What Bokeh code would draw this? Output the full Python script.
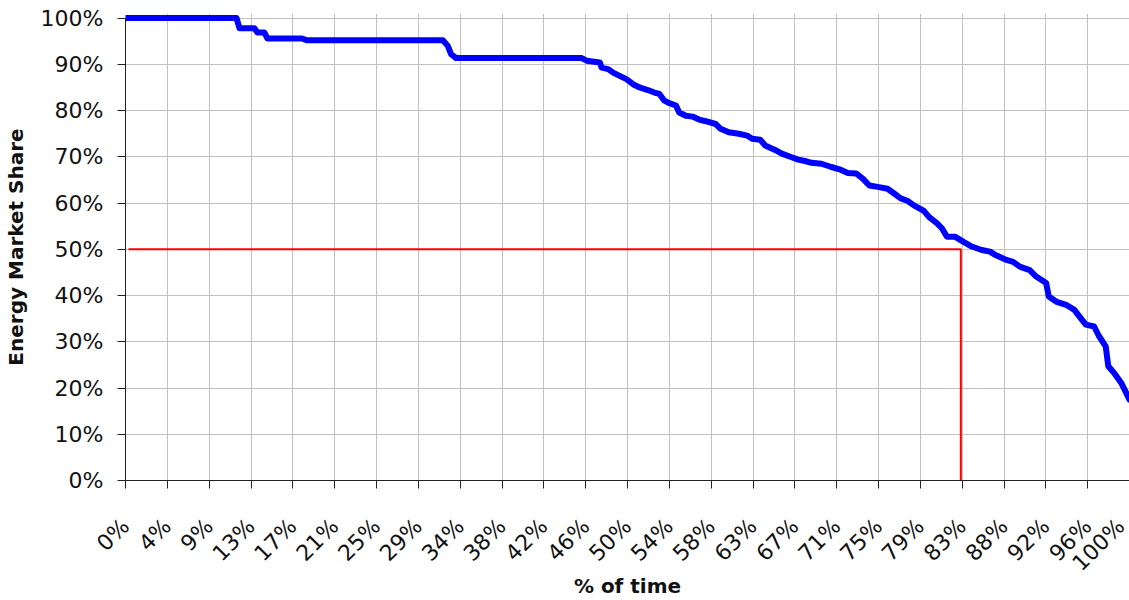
import math
from bokeh.plotting import figure
from bokeh.models import Range1d, FixedTicker, CustomJSTickFormatter, PrintfTickFormatter
from bokeh.embed import file_html
from bokeh.resources import INLINE

# % of time (x) and energy market share in % (y)
time_pct = [0.0, 11.06, 11.36, 12.84, 13.14, 13.83, 14.13, 17.58, 18.08, 31.61, 32.1, 32.43, 32.93,
            45.44, 45.93, 47.25, 47.42, 48.08, 48.57, 49.22, 49.89, 50.55, 51.2, 52.03, 52.68, 53.18,
            53.67, 54.16, 54.83, 55.15, 55.81, 56.47, 57.13, 57.79, 58.78, 59.27, 60.09, 61.08, 61.91,
            62.41, 63.22, 63.72, 64.7, 65.37, 66.35, 67.0, 67.67, 68.33, 69.32, 70.3, 71.12, 71.94,
            72.77, 73.43, 74.09, 74.91, 75.9, 76.56, 77.22, 77.87, 78.53, 79.52, 80.02, 80.84, 81.33,
            81.82, 82.65, 83.47, 84.29, 85.28, 86.11, 86.6, 87.75, 88.41, 89.07, 90.06, 90.71, 91.7,
            91.96, 92.69, 93.68, 94.51, 95.0, 95.65, 96.48, 96.97, 97.63, 97.89, 98.45, 99.18, 100.0]
share_pct = [100.0, 100.0, 97.8, 97.8, 96.9, 96.9, 95.6, 95.6, 95.2, 95.2, 94.0, 92.2, 91.35,
             91.35, 90.8, 90.4, 89.3, 88.97, 88.2, 87.5, 86.8, 85.7, 85.0, 84.45, 83.9, 83.6,
             82.15, 81.6, 81.1, 79.6, 78.9, 78.7, 78.06, 77.7, 77.1, 76.06, 75.3, 74.98, 74.6,
             73.9, 73.7, 72.46, 71.5, 70.7, 69.9, 69.4, 69.1, 68.7, 68.5, 67.8, 67.3, 66.5,
             66.4, 65.3, 63.8, 63.5, 63.1, 62.06, 61.0, 60.5, 59.5, 58.3, 57.0, 55.6, 54.5,
             52.7, 52.7, 51.6, 50.6, 49.85, 49.5, 48.8, 47.7, 47.3, 46.25, 45.5, 44.1, 42.7,
             39.8, 38.7, 38.0, 36.9, 35.5, 33.7, 33.3, 31.2, 29.0, 24.7, 23.3, 21.1, 17.5]

x_tick_labels = ["0%", "4%", "9%", "13%", "17%", "21%", "25%", "29%", "34%", "38%", "42%", "46%",
                 "50%", "54%", "58%", "63%", "67%", "71%", "75%", "79%", "83%", "88%", "92%",
                 "96%", "100%"]
y_ticks = [0, 10, 20, 30, 40, 50, 60, 70, 80, 90, 100]

threshold_start = 0.3
threshold_time = 83.2
threshold_share = 50.0

n = len(x_tick_labels) - 1
x_ticks = [100.0 * k / n for k in range(n + 1)]

FONT = "DejaVu Sans"

p = figure(width=1129, height=600, output_backend="svg", toolbar_location=None,
           x_range=Range1d(0, 100), y_range=Range1d(0, 101),
           min_border_left=125, min_border_right=0, min_border_top=13, min_border_bottom=118)
p.outline_line_color = None
p.background_fill_color = "white"
p.border_fill_color = "white"

p.line(time_pct, share_pct, line_width=6, color="#0000ff", line_join="round", line_cap="round")
p.line([threshold_start, threshold_time, threshold_time], [threshold_share, threshold_share, 0],
       line_width=2, color="#ff0000")

# x axis
p.xaxis.ticker = FixedTicker(ticks=x_ticks)
p.xaxis.formatter = CustomJSTickFormatter(args=dict(labels=x_tick_labels, n=n),
                                          code="return labels[Math.round(tick * n / 100)];")
p.xaxis.major_label_orientation = math.pi / 4
p.xaxis.axis_label = "% of time"

# y axis
p.yaxis.ticker = FixedTicker(ticks=y_ticks)
p.yaxis.formatter = PrintfTickFormatter(format="%d%%")
p.yaxis.axis_label = "Energy Market Share"
p.yaxis.bounds = (0, 100)

for ax in (p.xaxis, p.yaxis):
    ax.axis_line_color = "#222222"
    ax.axis_line_width = 1
    ax.major_tick_line_color = "#222222"
    ax.major_tick_out = 8
    ax.major_tick_in = 0
    ax.minor_tick_line_color = None
    ax.major_label_text_font = FONT
    ax.major_label_text_font_size = "22px"
    ax.major_label_text_color = "#111111"
    ax.axis_label_text_font = FONT
    ax.axis_label_text_font_size = "20px"
    ax.axis_label_text_font_style = "bold"
    ax.axis_label_text_color = "#111111"

p.yaxis.major_label_standoff = 14
p.yaxis.axis_label_standoff = 10
p.xaxis.major_label_standoff = 34
p.xaxis.axis_label_standoff = -14

p.xgrid.ticker = FixedTicker(ticks=x_ticks)
p.ygrid.ticker = FixedTicker(ticks=y_ticks)
p.xgrid.grid_line_color = "#c0c0c0"
p.ygrid.grid_line_color = "#c0c0c0"
p.xgrid.grid_line_width = 1
p.ygrid.grid_line_width = 1

open("out.html", "w").write(file_html(p, INLINE))
